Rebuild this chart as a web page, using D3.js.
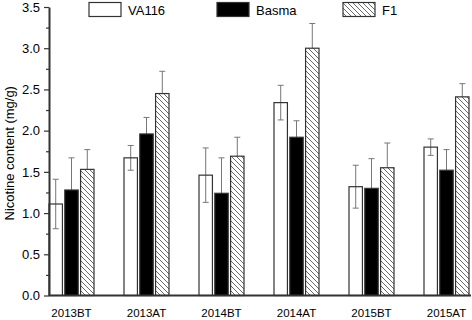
<!DOCTYPE html>
<html>
<head>
<meta charset="utf-8">
<script src="https://cdn.jsdelivr.net/npm/d3@7"></script>
<style>
  body { margin: 0; background: #fff; }
  svg { display: block; font-family: "Liberation Sans", Arial, sans-serif; }
</style>
</head>
<body>
<svg width="472" height="320"></svg>
<script>
const categories = ["2013BT", "2013AT", "2014BT", "2014AT", "2015BT", "2015AT"];
const seriesNames = ["VA116", "Basma", "F1"];
const va116 = [1.11, 1.67, 1.46, 2.34, 1.32, 1.80];
const va116Err = [0.30, 0.15, 0.33, 0.21, 0.26, 0.10];
const basma = [1.28, 1.96, 1.24, 1.92, 1.30, 1.52];
const basmaErr = [0.39, 0.20, 0.43, 0.20, 0.36, 0.25];
const f1 = [1.53, 2.45, 1.69, 3.00, 1.55, 2.41];
const f1Err = [0.24, 0.27, 0.23, 0.30, 0.30, 0.16];
const yTicks = [0, 0.5, 1.0, 1.5, 2.0, 2.5, 3.0, 3.5];

function drawChart() {
  const svg = d3.select("svg");
  const attr_area = { width: 472, height: 320, left: 49, top: 7, bottom: 295.5, right: 471 };

  const defs = svg.append("defs");
  const pat = defs.append("pattern")
    .attr("id", "hatch")
    .attr("patternUnits", "userSpaceOnUse")
    .attr("width", 5).attr("height", 5);
  pat.append("rect").attr("width", 5).attr("height", 5).attr("fill", "#fff");
  pat.append("path")
    .attr("d", "M0,0 L5,5 M-1,4 L1,6 M4,-1 L6,1")
    .attr("stroke", "#444").attr("stroke-width", 0.8);

  const fills = { "VA116": "none", "Basma": "#000", "F1": "url(#hatch)" };
  const values = { "VA116": va116, "Basma": basma, "F1": f1 };
  const errs = { "VA116": va116Err, "Basma": basmaErr, "F1": f1Err };

  const scX = d3.scaleBand()
    .domain(categories)
    .range([34, 484])
    .paddingInner(0.4)
    .paddingOuter(0.2);
  const scSeries = d3.scaleBand()
    .domain(seriesNames)
    .range([0, scX.bandwidth()])
    .paddingInner(0.15);
  const scY = d3.scaleLinear()
    .domain([0, 3.5])
    .range([attr_area.bottom, attr_area.top]);

  const data = [];
  categories.forEach((c, i) => {
    seriesNames.forEach(s => {
      data.push({ cat: c, series: s, value: values[s][i], err: errs[s][i] });
    });
  });

  // error bars (under the bars)
  const eg = svg.append("g").attr("stroke", "#777").attr("stroke-width", 1);
  data.forEach(d => {
    const cx = scX(d.cat) + scSeries(d.series) + scSeries.bandwidth() / 2;
    const y1 = scY(d.value + d.err), y2 = scY(d.value - d.err);
    eg.append("line").attr("x1", cx).attr("x2", cx).attr("y1", y1).attr("y2", y2);
    eg.append("line").attr("x1", cx - 3).attr("x2", cx + 3).attr("y1", y1).attr("y2", y1);
    eg.append("line").attr("x1", cx - 3).attr("x2", cx + 3).attr("y1", y2).attr("y2", y2);
  });

  svg.append("g").selectAll("rect")
    .data(data)
    .enter()
    .append("rect")
    .attr("x", d => scX(d.cat) + scSeries(d.series))
    .attr("y", d => scY(d.value))
    .attr("width", scSeries.bandwidth())
    .attr("height", d => scY(0) - scY(d.value))
    .attr("fill", d => fills[d.series])
    .attr("stroke", "#333")
    .attr("stroke-width", 1.2);

  // y axis
  const minor = d3.range(0.25, 3.5, 0.5);
  svg.append("g")
    .attr("transform", `translate(${attr_area.left},0)`)
    .call(d3.axisLeft(scY).tickValues(minor).tickSize(3).tickFormat(""))
    .call(g => g.select(".domain").remove())
    .call(g => g.selectAll("line").attr("stroke", "#333").attr("stroke-width", 1.2));
  const gy = svg.append("g")
    .attr("transform", `translate(${attr_area.left},0)`)
    .call(d3.axisLeft(scY).tickValues(yTicks).tickSize(5).tickSizeOuter(0).tickPadding(4)
      .tickFormat(d3.format(".1f")));
  gy.select(".domain").attr("stroke", "#333").attr("stroke-width", 2);
  gy.selectAll(".tick line").attr("stroke", "#333").attr("stroke-width", 1.2);
  gy.selectAll("text").attr("font-size", 13).attr("fill", "#000")
    .attr("font-family", "Liberation Sans, Arial, sans-serif");

  // x axis
  const gx = svg.append("g")
    .attr("transform", `translate(0,${attr_area.bottom})`)
    .call(d3.axisBottom(scX).tickSize(0).tickPadding(13));
  gx.select(".domain").remove();
  gx.selectAll("text").attr("font-size", 11.5).attr("fill", "#000")
    .attr("font-family", "Liberation Sans, Arial, sans-serif");
  svg.append("line")
    .attr("x1", attr_area.left).attr("x2", attr_area.right)
    .attr("y1", attr_area.bottom).attr("y2", attr_area.bottom)
    .attr("stroke", "#333").attr("stroke-width", 2);

  // y label
  svg.append("text")
    .attr("transform", `translate(14,${(attr_area.top + attr_area.bottom) / 2 + 2}) rotate(-90)`)
    .attr("text-anchor", "middle")
    .attr("font-size", 13)
    .text("Nicotine content (mg/g)");

  // legend
  const legendX = [89, 217, 343];
  const lg = svg.append("g");
  seriesNames.forEach((s, i) => {
    lg.append("rect")
      .attr("x", legendX[i]).attr("y", 2.5)
      .attr("width", 32).attr("height", 14)
      .attr("fill", s === "VA116" ? "#fff" : fills[s])
      .attr("stroke", "#333").attr("stroke-width", 1.2);
    lg.append("text")
      .attr("x", legendX[i] + 39).attr("y", 14.5)
      .attr("font-size", 13)
      .text(s);
  });
}

drawChart();
</script>
</body>
</html>
